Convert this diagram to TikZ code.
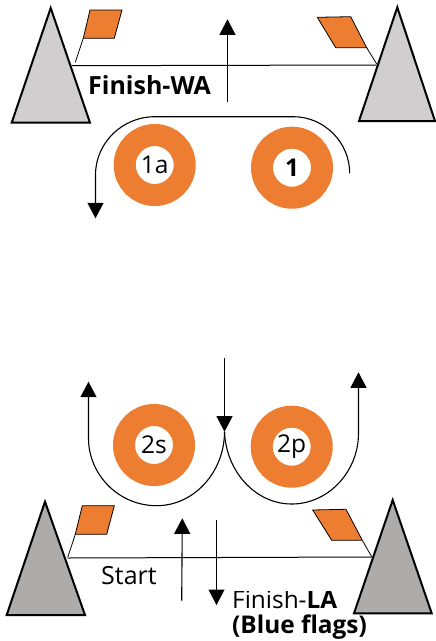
\documentclass[tikz,border=0pt]{standalone}
\usepackage{fontspec}
\setmainfont{Open Sans}
\usetikzlibrary{arrows.meta}
\definecolor{flagor}{HTML}{ED7D31}
\definecolor{ltgrey}{HTML}{D0CECE}
\definecolor{dkgrey}{HTML}{AEABAB}
\tikzset{
  buoy/.style={circle,draw=flagor,fill=white,line width=22pt,minimum size=60pt,inner sep=0pt,font=\fontsize{24.5}{26}\selectfont},
  flagshape/.style={draw=black,line width=0.8pt,fill=flagor},
  pole/.style={draw=black,line width=0.8pt},
  mark tri/.style={draw=black,line width=2pt,miter limit=10},
  gate/.style={draw=black,line width=1pt},
  course/.style={draw=black,line width=1.1pt},
  coursearrow/.style={course,-{Triangle[width=16pt,length=15.5pt]}},
  lbl/.style={inner sep=0pt,anchor=west,font=\fontsize{25}{25}\selectfont}
}
\begin{document}
\begin{tikzpicture}[x=1pt,y=-1pt]
\useasboundingbox (0,0) rectangle (436,641);
% top gate
\draw[gate] (71.7,65.7) -- (376.7,65);
\filldraw[mark tri,fill=ltgrey] (50.7,8) -- (90,122.7) -- (11.7,122.7) -- cycle;
\filldraw[mark tri,fill=ltgrey] (397.3,7.3) -- (435,121) -- (359,121) -- cycle;
\draw[pole] (83.3,38.3) -- (75.3,62.3);
\draw[pole] (366.7,47.7) -- (376.7,64);
\filldraw[flagshape] (90,10) -- (122,10) -- (114.3,38.3) -- (83.3,38.3) -- cycle;
\filldraw[flagshape] (317.3,17.3) -- (350.7,16.7) -- (366.7,47.7) -- (335.7,47.7) -- cycle;
\coordinate (wafrom) at (227.5,101.7);
\coordinate (wato) at (227.5,19.3);
\draw[coursearrow] (wafrom) -- (wato);
\node[lbl,font=\fontsize{25}{25}\selectfont\bfseries] (finishwa) at (88,85) {Finish-WA};
\node[buoy] (m1a) at (154.7,165) {1a};
\node[buoy,font=\fontsize{24.5}{26}\selectfont\bfseries] (m1) at (292,167.7) {1};
\coordinate (c1s) at (349.7,173.3);
\coordinate (c1e) at (95.5,218.3);
\draw[coursearrow] (c1s) .. controls (349.7,142) and (324,116.7) .. (293.3,116.7) -- (155,116.7) .. controls (122,116.7) and (95.5,143) .. (95.5,175) -- (c1e);
% bottom gate
\draw[gate] (67.7,558) -- (371.7,557);
\filldraw[mark tri,fill=dkgrey] (45,501.7) -- (85,615) -- (6.7,615) -- cycle;
\filldraw[mark tri,fill=dkgrey] (392.7,500) -- (431.7,613.3) -- (354,613.3) -- cycle;
\draw[pole] (75.3,534.3) -- (67.7,557.3);
\draw[pole] (362.3,540.3) -- (371.7,556.7);
\filldraw[flagshape] (82.3,505.7) -- (114.3,505.7) -- (106.7,534.3) -- (75.3,534.3) -- cycle;
\filldraw[flagshape] (312.7,510) -- (346,509.3) -- (362.3,540.3) -- (331.7,540.3) -- cycle;
\node[buoy] (m2s) at (154,445) {2s};
\node[buoy] (m2p) at (291.7,446.7) {2p};
\coordinate (cusp) at (224.5,431.7);
\coordinate (topin) at (224.5,358.3);
\coordinate (c2l) at (88.5,381.7);
\coordinate (c2r) at (358.5,372.3);
\draw[coursearrow] (cusp) .. controls (224.5,472) and (194,505.7) .. (156.7,505.7) .. controls (118,505.7) and (88.5,474) .. (88.5,438.3) -- (c2l);
\draw[coursearrow] (cusp) .. controls (226,471) and (255,504) .. (291.7,504) .. controls (329,504) and (358.5,471) .. (358.5,433.3) -- (c2r);
\draw[coursearrow] (topin) -- (cusp);
\coordinate (stfrom) at (181.7,600.7);
\coordinate (stto) at (182.3,518.3);
\coordinate (lafrom) at (216.5,520);
\coordinate (lato) at (216.5,605);
\draw[coursearrow] (stfrom) -- (stto);
\draw[coursearrow] (lafrom) -- (lato);
\node[lbl] (start) at (101,576) {Start};
\begin{scope}
\clip (225,591.5) rectangle (372,638.5);
\node[lbl,align=left,anchor=base west,font=\fontsize{24.4}{25}\selectfont] (finishla) at (232,633) {Finish-\textbf{LA}\\\textbf{(Blue flags)}};
\end{scope}
\end{tikzpicture}
\end{document}
